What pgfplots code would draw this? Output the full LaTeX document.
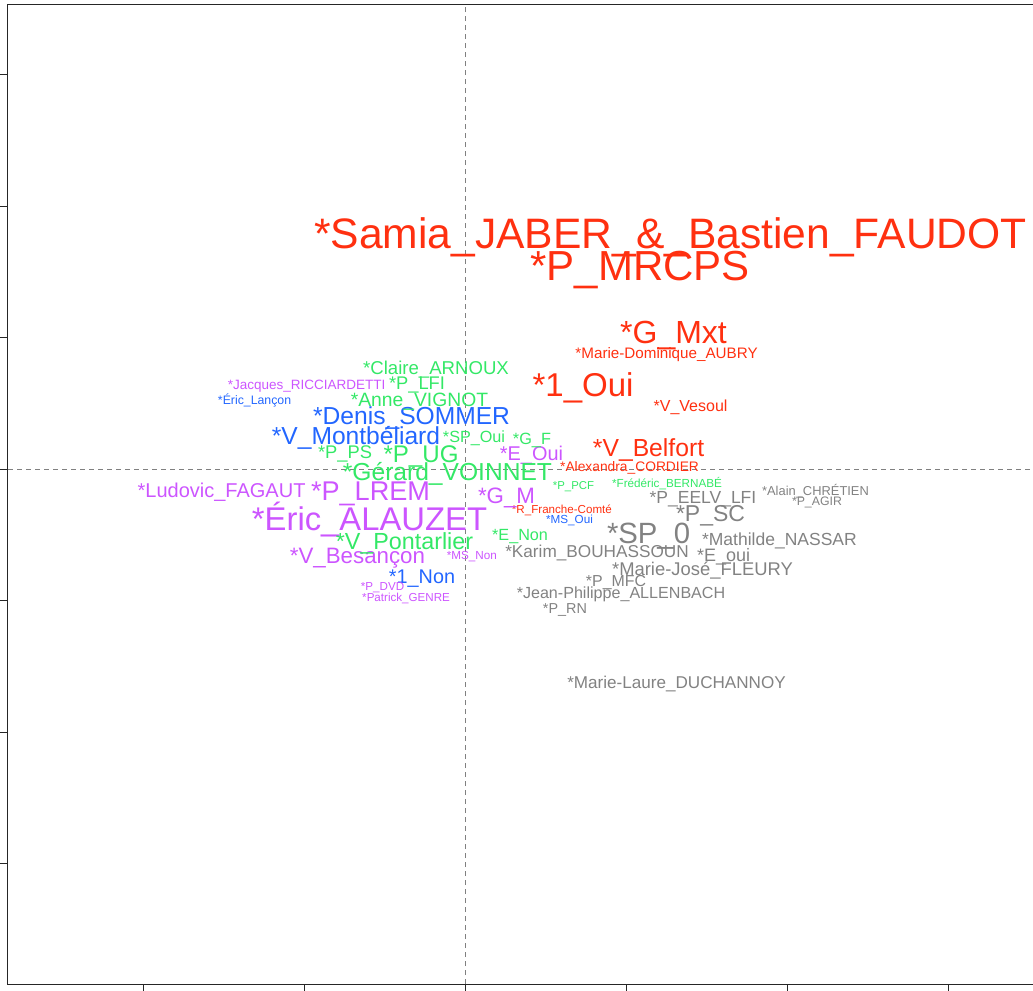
\documentclass[border=0pt]{standalone}
\usepackage{fontspec}
\setmainfont{Liberation Sans}
\usepackage{pgfplots}
\pgfplotsset{compat=1.18}
\definecolor{cred}{RGB}{255,48,16}
\definecolor{cblue}{RGB}{34,102,255}
\definecolor{cpurple}{RGB}{204,85,255}
\definecolor{cgreen}{RGB}{51,232,102}
\definecolor{cgray}{RGB}{130,130,130}
\pgfplotsset{lbl/.style={only marks, mark=none, point meta=explicit symbolic,
  nodes near coords,
  visualization depends on={value \thisrow{s}\as\fs},
  nodes near coords style={font=\fontsize{\fs}{\fs}\selectfont, anchor=base, inner sep=0pt, outer sep=0pt}}}
\begin{document}
\begin{tikzpicture}
\begin{axis}[name=ax, x=161pt, y=131.5pt,
  xmin=-2.8385, xmax=3.8, ymin=-3.916, ymax=3.529,
  xtick={-2,...,3}, ytick={-3,...,3}, xticklabels={}, yticklabels={},
  tick pos=left, tick align=outside, major tick length=14pt,
  axis line style={black!85, line width=1pt},
  tick style={black!85, line width=0.9pt},
  clip=false]
\addplot[gray, line width=0.8pt, dash pattern=on 5pt off 4pt] coordinates {(0,-3.916) (0,3.529)};
\addplot[gray, line width=0.8pt, dash pattern=on 5pt off 4pt] coordinates {(-2.8385,0) (3.8,0)};
% red
\addplot[lbl, color=cred] table[meta=label, row sep=\\] {
x y s label\\
1.276 1.681 42.6 *Samia\_JABER\_\&\_Bastien\_FAUDOT\\
1.087 1.437 42 *P\_MRCPS\\
1.295 0.958 32 *G\_Mxt\\
1.252 0.844 15.2 *Marie-Dominique\_AUBRY\\
0.733 0.555 33 *1\_Oui\\
1.401 0.441 16 *V\_Vesoul\\
1.140 0.099 24.7 *V\_Belfort\\
1.022 -0.015 13.8 *Alexandra\_CORDIER\\
0.602 -0.335 11.6 *R\_Franche-Comté\\
};
% blue
\addplot[lbl, color=cblue] table[meta=label, row sep=\\] {
x y s label\\
-1.307 0.494 12.3 *Éric\_Lançon\\
-0.332 0.342 24.6 *Denis\_SOMMER\\
-0.677 0.183 24.6 *V\_Montbéliard\\
0.649 -0.411 11.7 *MS\_Oui\\
-0.267 -0.867 19.8 *1\_Non\\
};
% purple
\addplot[lbl, color=cpurple] table[meta=label, row sep=\\] {
x y s label\\
-0.984 0.608 13.5 *Jacques\_RICCIARDETTI\\
0.413 0.068 19.9 *E\_Oui\\
-1.512 -0.213 20 *Ludovic\_FAGAUT\\
-0.587 -0.236 27.1 *P\_LREM\\
0.258 -0.259 22.3 *G\_M\\
-0.593 -0.464 32.8 *Éric\_ALAUZET\\
-0.668 -0.715 22.3 *V\_Besançon\\
0.043 -0.684 11.7 *MS\_Non\\
-0.512 -0.920 11.6 *P\_DVD\\
-0.366 -1.004 11.6 *Patrick\_GENRE\\
};
% green
\addplot[lbl, color=cgreen] table[meta=label, row sep=\\] {
x y s label\\
-0.180 0.722 18.6 *Claire\_ARNOUX\\
-0.298 0.608 18.3 *P\_LFI\\
-0.283 0.479 19.3 *Anne\_VIGNOT\\
0.056 0.205 16.2 *SP\_Oui\\
0.416 0.190 16.3 *G\_F\\
-0.745 0.084 18.3 *P\_PS\\
-0.273 0.053 24.1 *P\_UG\\
-0.109 -0.084 24.6 *Gérard\_VOINNET\\
0.674 -0.152 11.4 *P\_PCF\\
1.255 -0.144 11.7 *Frédéric\_BERNABÉ\\
0.342 -0.540 16.2 *E\_Non\\
-0.376 -0.608 23.3 *V\_Pontarlier\\
};
% gray
\addplot[lbl, color=cgray] table[meta=label, row sep=\\] {
x y s label\\
1.478 -0.259 17.5 *P\_EELV\_LFI\\
2.177 -0.198 12.9 *Alain\_CHRÉTIEN\\
2.186 -0.274 12.3 *P\_AGIR\\
1.525 -0.395 23 *P\_SC\\
1.140 -0.563 29.3 *SP\_0\\
1.953 -0.578 17.5 *Mathilde\_NASSAR\\
0.820 -0.669 17.2 *Karim\_BOUHASSOUN\\
1.606 -0.700 18 *E\_oui\\
1.475 -0.806 18.4 *Marie-José\_FLEURY\\
0.938 -0.890 15.9 *P\_MFC\\
0.969 -0.981 16.1 *Jean-Philippe\_ALLENBACH\\
0.621 -1.095 14.4 *P\_RN\\
1.314 -1.665 17.1 *Marie-Laure\_DUCHANNOY\\
};
\end{axis}
\pgfresetboundingbox
\path[use as bounding box] ([shift={(-8pt,-6pt)}]ax.south west) rectangle ([shift={(1025pt,5pt)}]ax.north west);
\end{tikzpicture}
\end{document}
